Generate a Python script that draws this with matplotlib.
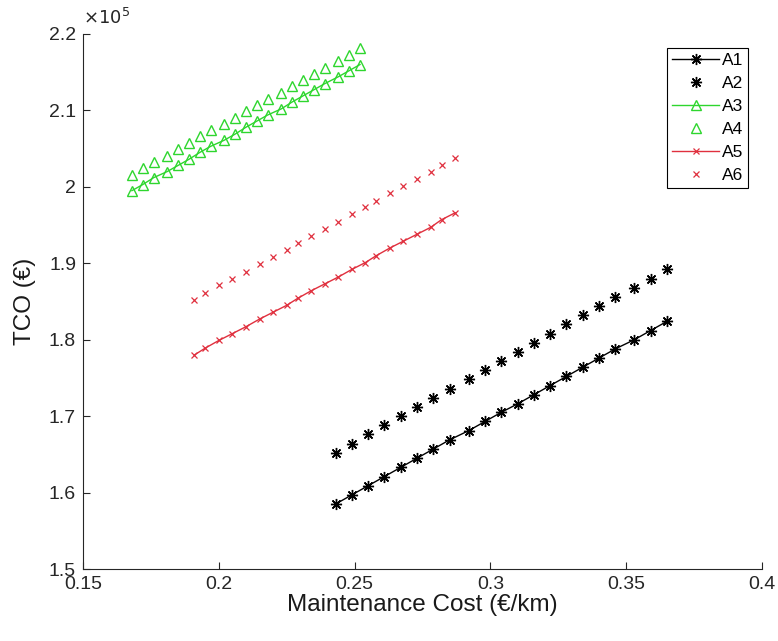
import matplotlib
matplotlib.use('Agg')
import matplotlib.pyplot as plt
from matplotlib.ticker import FuncFormatter

plt.rcParams['font.family'] = ['Liberation Sans', 'DejaVu Sans']

# maintenance cost (EUR/km) for each group of scenarios
x_a = [0.243, 0.249, 0.255, 0.261, 0.267, 0.273, 0.279, 0.285, 0.292, 0.298, 0.304,
       0.310, 0.316, 0.322, 0.328, 0.334, 0.340, 0.346, 0.353, 0.359, 0.365]
x_g = [0.168, 0.172, 0.176, 0.181, 0.185, 0.189, 0.193, 0.197, 0.202, 0.206, 0.210,
       0.214, 0.218, 0.223, 0.227, 0.231, 0.235, 0.239, 0.244, 0.248, 0.252]
x_r = [0.191, 0.195, 0.200, 0.205, 0.210, 0.215, 0.220, 0.225, 0.229, 0.234, 0.239,
       0.244, 0.249, 0.254, 0.258, 0.263, 0.268, 0.273, 0.278, 0.282, 0.287]

# TCO in units of 1e5 EUR
a1 = [1.585, 1.597, 1.609, 1.621, 1.633, 1.645, 1.657, 1.669, 1.681, 1.693, 1.705,
      1.716, 1.728, 1.740, 1.752, 1.764, 1.776, 1.788, 1.800, 1.812, 1.824]
a2 = [1.652, 1.664, 1.676, 1.688, 1.700, 1.712, 1.724, 1.736, 1.748, 1.760, 1.772,
      1.784, 1.796, 1.808, 1.820, 1.832, 1.844, 1.856, 1.868, 1.880, 1.892]
a3 = [1.995, 2.003, 2.012, 2.020, 2.028, 2.036, 2.045, 2.053, 2.061, 2.069, 2.078,
      2.086, 2.094, 2.102, 2.111, 2.119, 2.127, 2.135, 2.144, 2.152, 2.160]
a4 = [2.016, 2.024, 2.033, 2.041, 2.049, 2.057, 2.066, 2.074, 2.082, 2.090, 2.099,
      2.107, 2.115, 2.123, 2.132, 2.140, 2.148, 2.156, 2.165, 2.173, 2.181]
a5 = [1.780, 1.789, 1.799, 1.808, 1.817, 1.827, 1.836, 1.845, 1.854, 1.864, 1.873,
      1.882, 1.892, 1.901, 1.910, 1.920, 1.929, 1.938, 1.947, 1.957, 1.966]
a6 = [1.852, 1.861, 1.871, 1.880, 1.889, 1.899, 1.908, 1.917, 1.926, 1.936, 1.945,
      1.954, 1.964, 1.973, 1.982, 1.992, 2.001, 2.010, 2.019, 2.029, 2.038]

scale = 1e5
green = '#2ed62e'
red = '#e0303e'
star = (8, 2, 0)

fig = plt.figure(figsize=(7.78, 6.41), dpi=100)
ax = fig.add_axes([0.1067, 0.1123, 0.8727, 0.8347])

ax.plot(x_a, [v * scale for v in a1], color='black', lw=1, marker=star, ms=8, mew=1, label='A1')
ax.plot(x_a, [v * scale for v in a2], ls='none', color='black', marker=star, ms=8, mew=1, label='A2')
ax.plot(x_g, [v * scale for v in a3], color=green, lw=1, marker='^', ms=7, mfc='none', mew=1, label='A3')
ax.plot(x_g, [v * scale for v in a4], ls='none', color=green, marker='^', ms=7, mfc='none', mew=1, label='A4')
ax.plot(x_r, [v * scale for v in a5], color=red, lw=1, marker='x', ms=5, mew=0.9, label='A5')
ax.plot(x_r, [v * scale for v in a6], ls='none', color=red, marker='x', ms=5, mew=0.9, label='A6')

ax.set_xlim(0.15, 0.4)
ax.set_ylim(1.5e5, 2.2e5)
ax.set_xticks([0.15, 0.2, 0.25, 0.3, 0.35, 0.4])
ax.set_yticks([1.5e5, 1.6e5, 1.7e5, 1.8e5, 1.9e5, 2.0e5, 2.1e5, 2.2e5])
ax.xaxis.set_major_formatter(FuncFormatter(lambda v, p: '%g' % round(v, 4)))
ax.yaxis.set_major_formatter(FuncFormatter(lambda v, p: '%g' % round(v / scale, 4)))

for s in ['top', 'right']:
    ax.spines[s].set_visible(False)
for s in ['left', 'bottom']:
    ax.spines[s].set_color('#262626')
    ax.spines[s].set_linewidth(0.8)
ax.tick_params(direction='in', length=5, width=0.8, colors='#262626',
               labelsize=14, labelcolor='#262626')
ax.tick_params(axis='x', pad=5)
ax.tick_params(axis='y', pad=5)

ax.text(0.0, 1.012, r'$\times10^{5}$', transform=ax.transAxes, fontsize=13,
        color='#262626', ha='left', va='bottom')

ax.set_xlabel('Maintenance Cost (€/km)', fontsize=17.5, color='#1a1a1a', labelpad=1)
ax.set_ylabel('TCO (€)', fontsize=17.5, color='#1a1a1a', labelpad=9)

leg = ax.legend(loc='upper right', bbox_to_anchor=(0.98, 0.974), fontsize=12.5,
                frameon=True, fancybox=False, edgecolor='black', framealpha=1,
                handlelength=2.7, handletextpad=0.15, borderpad=0.3, labelspacing=0.45,
                borderaxespad=0)
leg.get_frame().set_linewidth(0.8)

fig.savefig('out.png', dpi=100)
